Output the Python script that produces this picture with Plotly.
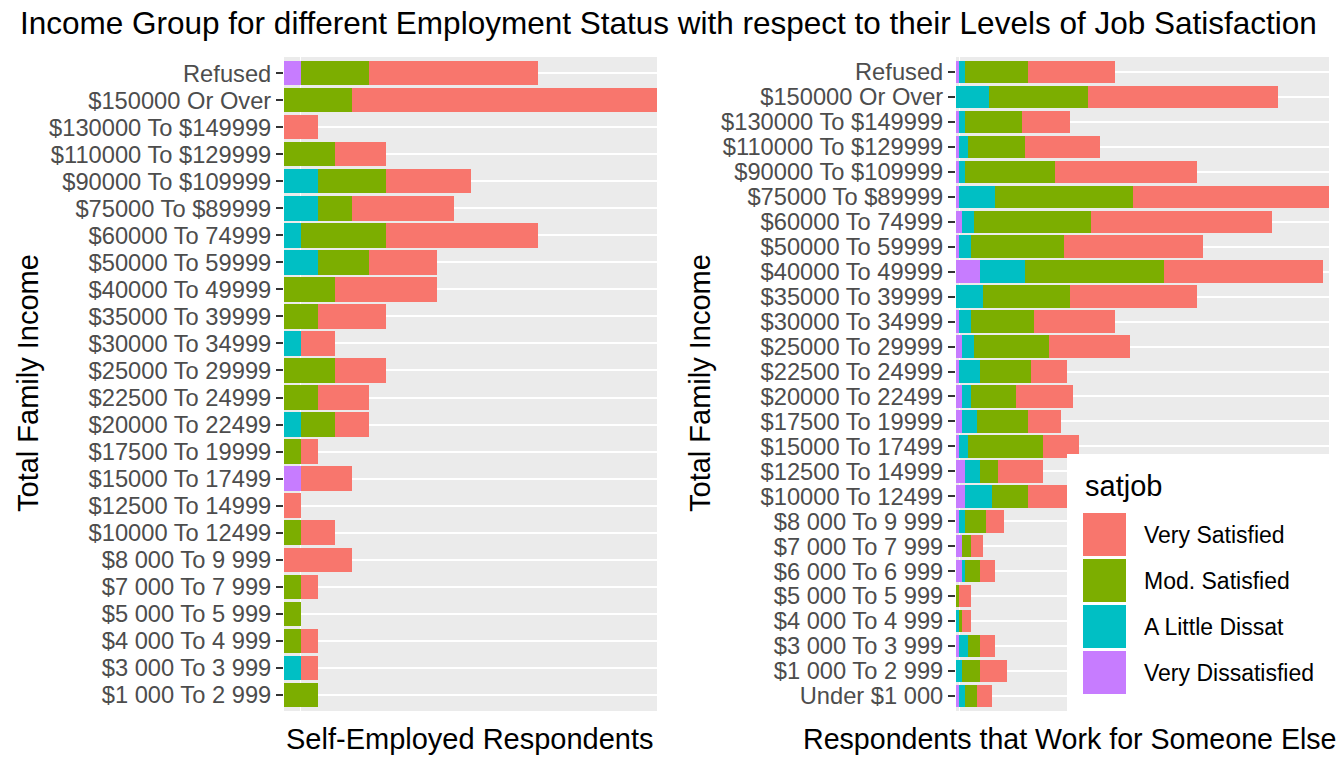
import plotly.graph_objects as go

# ---------------- data ----------------
levels = ["Very Dissatisfied", "A Little Dissat", "Mod. Satisfied", "Very Satisfied"]
colors = ["#C77CFF", "#00BFC4", "#7CAE00", "#F8766D"]

self_cats = ["Refused", "$150000 Or Over", "$130000 To $149999", "$110000 To $129999",
             "$90000 To $109999", "$75000 To $89999", "$60000 To 74999", "$50000 To 59999",
             "$40000 To 49999", "$35000 To 39999", "$30000 To 34999", "$25000 To 29999",
             "$22500 To 24999", "$20000 To 22499", "$17500 To 19999", "$15000 To 17499",
             "$12500 To 14999", "$10000 To 12499", "$8 000 To 9 999", "$7 000 To 7 999",
             "$5 000 To 5 999", "$4 000 To 4 999", "$3 000 To 3 999", "$1 000 To 2 999"]
self_vd  = [1, 0, 0, 0, 0, 0, 0, 0, 0, 0, 0, 0, 0, 0, 0, 1, 0, 0, 0, 0, 0, 0, 0, 0]
self_ald = [0, 0, 0, 0, 2, 2, 1, 2, 0, 0, 1, 0, 0, 1, 0, 0, 0, 0, 0, 0, 0, 0, 1, 0]
self_ms  = [4, 4, 0, 3, 4, 2, 5, 3, 3, 2, 0, 3, 2, 2, 1, 0, 0, 1, 0, 1, 1, 1, 0, 2]
self_vs  = [10, 18, 2, 3, 5, 6, 9, 4, 6, 4, 2, 3, 3, 2, 1, 3, 1, 2, 4, 1, 0, 1, 1, 0]

other_cats = ["Refused", "$150000 Or Over", "$130000 To $149999", "$110000 To $129999",
              "$90000 To $109999", "$75000 To $89999", "$60000 To 74999", "$50000 To 59999",
              "$40000 To 49999", "$35000 To 39999", "$30000 To 34999", "$25000 To 29999",
              "$22500 To 24999", "$20000 To 22499", "$17500 To 19999", "$15000 To 17499",
              "$12500 To 14999", "$10000 To 12499", "$8 000 To 9 999", "$7 000 To 7 999",
              "$6 000 To 6 999", "$5 000 To 5 999", "$4 000 To 4 999", "$3 000 To 3 999",
              "$1 000 To 2 999", "Under $1 000"]
other_vd  = [1, 0, 1, 1, 1, 1, 2, 1, 8, 0, 1, 2, 1, 2, 2, 1, 3, 3, 1, 2, 2, 0, 0, 1, 0, 1]
other_ald = [2, 11, 2, 3, 2, 12, 4, 4, 15, 9, 4, 4, 7, 3, 5, 3, 5, 9, 2, 0, 1, 0, 1, 3, 2, 2]
other_ms  = [21, 33, 19, 19, 30, 46, 39, 31, 46, 29, 21, 25, 17, 15, 17, 25, 6, 12, 7, 3, 5, 1, 1, 4, 6, 4]
other_vs  = [29, 63, 16, 25, 47, 65, 60, 46, 53, 42, 27, 27, 12, 19, 11, 12, 15, 14, 6, 4, 5, 4, 3, 5, 9, 5]

self_series = [self_vd, self_ald, self_ms, self_vs]
other_series = [other_vd, other_ald, other_ms, other_vs]

# ---------------- geometry helpers ----------------
W, H = 1344, 768
def px(x):
    return x / W
def py(y):
    return 1 - y / H

FONT = "Liberation Sans, Arial, sans-serif"

fig = go.Figure()
for lvl, col, vals in zip(levels, colors, self_series):
    fig.add_trace(go.Bar(x=vals, y=self_cats, orientation="h", name=lvl,
                         marker=dict(color=col, line=dict(width=0)),
                         xaxis="x", yaxis="y", showlegend=False))
for lvl, col, vals in zip(levels, colors, other_series):
    fig.add_trace(go.Bar(x=vals, y=other_cats, orientation="h", name=lvl,
                         marker=dict(color=col, line=dict(width=0)),
                         xaxis="x2", yaxis="y2", showlegend=False))

ydom = [py(711), py(57)]
common_y = dict(type="category", autorange=False, showgrid=True, gridcolor="white",
                gridwidth=2, ticks="outside", ticklen=7, tickwidth=1.5, tickcolor="#333333",
                tickfont=dict(family=FONT, size=23.7, color="#4D4D4D"), showline=False,
                zeroline=False, ticklabelstandoff=0, domain=ydom, tickmode="array")
common_x = dict(showticklabels=False, ticks="", showgrid=True, gridcolor="white",
                gridwidth=1.2, zeroline=False, showline=False, tickmode="array",
                tickvals=[1], fixedrange=True)

fig.update_layout(
    width=W, height=H,
    margin=dict(l=0, r=0, t=0, b=0),
    paper_bgcolor="white",
    plot_bgcolor="#EBEBEB",
    barmode="stack",
    bargap=0.1,
    xaxis=dict(domain=[px(284), px(657)], range=[0, 22], anchor="y", **common_x),
    yaxis=dict(anchor="x", range=[len(self_cats) - 0.4, -0.6],
               categoryorder="array", categoryarray=self_cats,
               tickvals=self_cats, ticktext=self_cats, **common_y),
    xaxis2=dict(domain=[px(956), px(1329)], range=[0, 124], anchor="y2", **common_x),
    yaxis2=dict(anchor="x2", range=[len(other_cats) - 0.4, -0.6],
                categoryorder="array", categoryarray=other_cats,
                tickvals=other_cats, ticktext=other_cats, **common_y),
    title=dict(text="Income Group for different Employment Status with respect to their Levels of Job Satisfaction",
               x=px(20), xanchor="left", y=py(23), yanchor="middle",
               font=dict(family=FONT, size=31.5, color="black")),
)

ann = []
def text(x, y, s, size, color="black", xanchor="center", angle=0):
    ann.append(dict(x=px(x), y=py(y), xref="paper", yref="paper", text=s, showarrow=False,
                    xanchor=xanchor, yanchor="middle", textangle=angle,
                    font=dict(family=FONT, size=size, color=color)))

text(28, 383, "Total Family Income", 29, angle=-90)
text(700, 383, "Total Family Income", 29, angle=-90)
text(470, 739, "Self-Employed Respondents", 29)
text(801, 739, "Respondents that Work for Someone Else", 28.6, xanchor="left")

# manual legend (ggplot-style big keys)
shapes = [dict(type="rect", xref="paper", yref="paper", x0=px(1067), x1=px(1344),
               y0=py(716), y1=py(454), fillcolor="white", line=dict(width=0), layer="above")]
text(1083, 486, "satjob", 29, xanchor="left")
legend_order = list(zip(levels, colors))[::-1]
for i, (lvl, col) in enumerate(legend_order):
    top = 513 + i * 46
    shapes.append(dict(type="rect", xref="paper", yref="paper", x0=px(1083), x1=px(1126),
                       y0=py(top + 43), y1=py(top), fillcolor=col, line=dict(width=0),
                       layer="above"))
    text(1142, top + 22, lvl, 23, xanchor="left")

fig.update_layout(annotations=ann, shapes=shapes)
fig.write_html("out.html", config={"displayModeBar": False},
               post_script="document.body.style.margin='0';document.body.style.overflow='hidden';")
